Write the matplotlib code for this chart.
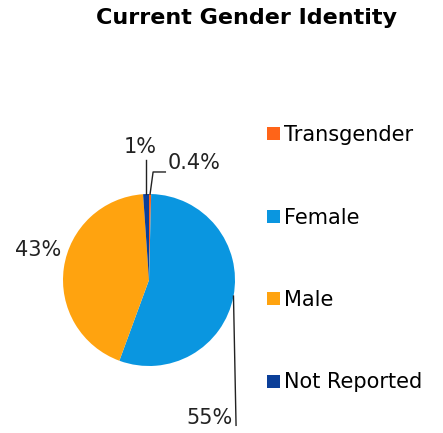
import numpy as np
import matplotlib.pyplot as plt

plt.rcParams.update({'font.family': 'DejaVu Sans'})

labels = ['Transgender', 'Female', 'Male', 'Not Reported']
values = [0.4, 55.2, 43.3, 1.1]
pct_text = ['0.4%', '55%', '43%', '1%']
colors = ['#FF6418', '#0A96E0', '#FFA30F', '#0B3F99']

W, H = 443, 433
fig = plt.figure(figsize=(W/100, H/100), dpi=100, facecolor='w')

# pie: center (149,280) px, radius 86 px
cx, cy, r = 149, 280, 86
ax = fig.add_axes([(cx-r)/W, (H-cy-r)/H, 2*r/W, 2*r/H])
wedges, _ = ax.pie(values, colors=colors, startangle=90, counterclock=False,
                   wedgeprops=dict(linewidth=0))
ax.set_xlim(-1, 1)
ax.set_ylim(-1, 1)
ax.set_aspect('equal')

def edge(w, rr=1.0):
    a = np.deg2rad((w.theta1 + w.theta2) / 2)
    return rr*np.cos(a), rr*np.sin(a)

lc = '#222222'
fs = 15

# Transgender 0.4%
x0, y0 = edge(wedges[0])
ax.plot([x0, x0 + 0.035, 0.19], [y0, 1.256, 1.256], color=lc, lw=1, clip_on=False)
ax.text(0.22, 1.36, pct_text[0], fontsize=fs, ha='left', va='center', color='#222222')

# Female 55%
x1, y1 = edge(wedges[1])
ax.plot([x1, x1 + 0.03], [y1, -1.69], color=lc, lw=1, clip_on=False)
ax.text(0.97, -1.60, pct_text[1], fontsize=fs, ha='right', va='center', color='#222222')

# Male 43%
ax.text(-1.02, 0.35, pct_text[2], fontsize=fs, ha='right', va='center', color='#222222')

# Not Reported 1%
x3, y3 = edge(wedges[3])
ax.plot([x3, x3], [y3, 1.40], color=lc, lw=1, clip_on=False)
ax.text(x3 - 0.07, 1.55, pct_text[3], fontsize=fs, ha='center', va='center', color='#222222')

fig.text(247/W, 1 - 18/H, 'Current Gender Identity', fontsize=16, fontweight='bold',
         ha='center', va='center')

leg = fig.legend(wedges, labels, loc='upper left', bbox_to_anchor=(267/W, 1 - 125/H),
                 frameon=False, fontsize=fs, handlelength=0.6, handleheight=0.6,
                 handletextpad=0.2, labelspacing=3.0, borderpad=0, borderaxespad=0)

fig.savefig('out.png', dpi=100)
